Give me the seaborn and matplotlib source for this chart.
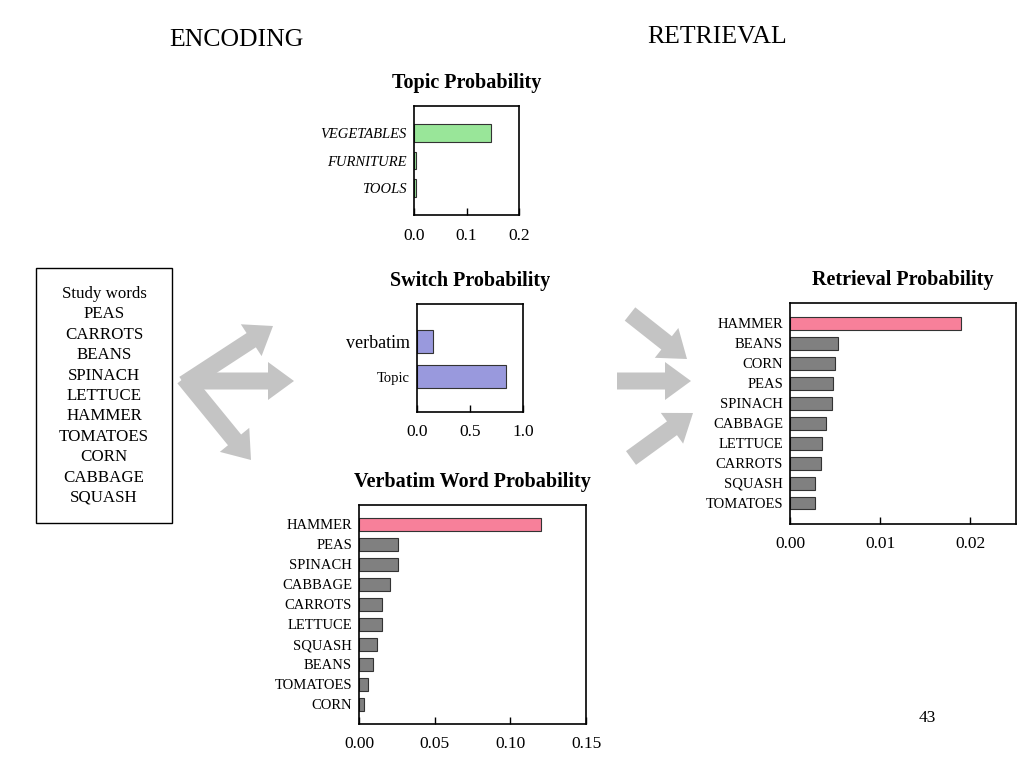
import matplotlib
matplotlib.use('Agg')
import matplotlib.pyplot as plt
import seaborn as sns
import pandas as pd
from matplotlib.patches import FancyArrow, Rectangle

# values
topic_cats = ['VEGETABLES', 'FURNITURE', 'TOOLS']
topic_vals = [0.147, 0.003, 0.003]

switch_cats = ['verbatim', 'Topic']
switch_vals = [0.15, 0.84]

verb_words = ['HAMMER', 'PEAS', 'SPINACH', 'CABBAGE', 'CARROTS',
              'LETTUCE', 'SQUASH', 'BEANS', 'TOMATOES', 'CORN']
verb_vals = [0.120, 0.0258, 0.0258, 0.0205, 0.0150,
             0.0150, 0.0118, 0.0090, 0.0060, 0.0030]

ret_words = ['HAMMER', 'BEANS', 'CORN', 'PEAS', 'SPINACH',
             'CABBAGE', 'LETTUCE', 'CARROTS', 'SQUASH', 'TOMATOES']
ret_vals = [0.0190, 0.0053, 0.0050, 0.0048, 0.0047,
            0.0040, 0.0036, 0.0034, 0.0028, 0.0028]

study_words = ['Study words', 'PEAS', 'CARROTS', 'BEANS', 'SPINACH', 'LETTUCE',
               'HAMMER', 'TOMATOES', 'CORN', 'CABBAGE', 'SQUASH']

GREEN = '#99e699'
PURPLE = '#9999dd'
PINK = '#f7809a'
GRAY = '#808080'
ARROW = '#c4c4c4'

sns.set_theme(style='white')
plt.rcParams['font.family'] = ['Liberation Serif', 'DejaVu Serif']
plt.rcParams['text.color'] = 'black'
plt.rcParams['xtick.labelcolor'] = 'black'
plt.rcParams['ytick.labelcolor'] = 'black'

W, H = 1024, 768
fig = plt.figure(figsize=(10.24, 7.68), dpi=100)

# overlay in pixel coordinates for arrows, box and slide text
bg = fig.add_axes([0, 0, 1, 1])
bg.set_xlim(0, W)
bg.set_ylim(H, 0)
bg.axis('off')


def px_axes(x0, y0, x1, y1):
    return fig.add_axes([x0 / W, 1 - y1 / H, (x1 - x0) / W, (y1 - y0) / H])


def hbar(ax, cats, vals, colors, xlim, ylim, ticks, ticklabels, title,
         labsize=10.5, italic=False):
    df = pd.DataFrame({'cat': cats, 'val': vals})
    sns.barplot(data=df, x='val', y='cat', hue='cat', palette=colors,
                legend=False, orient='h', width=0.65, ax=ax,
                edgecolor='#333333', linewidth=0.8, saturation=1)
    ax.set_xlim(*xlim)
    ax.set_ylim(*ylim)
    ax.set_xticks(ticks)
    ax.set_xticklabels(ticklabels, fontsize=12.5)
    ax.set_xlabel('')
    ax.set_ylabel('')
    ax.tick_params(axis='x', bottom=True, direction='in', length=5, width=1,
                   color='black', pad=9)
    ax.tick_params(axis='y', left=False, length=0, pad=5, labelsize=labsize)
    if italic:
        for t in ax.get_yticklabels():
            t.set_style('italic')
    for s in ax.spines.values():
        s.set_visible(True)
        s.set_color('black')
        s.set_linewidth(1.2)
    ax.set_title(title, fontsize=14.5, fontweight='bold', pad=13)


ax1 = px_axes(414, 106, 519, 215)
hbar(ax1, topic_cats, topic_vals, [GREEN] * 3, (0, 0.2), (3.0, -1.0),
     [0, 0.1, 0.2], ['0.0', '0.1', '0.2'], 'Topic Probability', italic=True)

ax2 = px_axes(417, 304, 523, 412)
hbar(ax2, switch_cats, switch_vals, [PURPLE] * 2, (0, 1.0), (2.0, -1.05),
     [0, 0.5, 1.0], ['0.0', '0.5', '1.0'], 'Switch Probability')
ylabs = ax2.get_yticklabels()
ylabs[0].set_fontsize(13)
ylabs[1].set_fontsize(10.5)

ax3 = px_axes(359, 505, 586, 724)
hbar(ax3, verb_words, verb_vals, [PINK] + [GRAY] * 9, (0, 0.15), (10.0, -0.95),
     [0, 0.05, 0.10, 0.15], ['0.00', '0.05', '0.10', '0.15'],
     'Verbatim Word Probability')

ax4 = px_axes(790, 303, 1016, 524)
hbar(ax4, ret_words, ret_vals, [PINK] + [GRAY] * 9, (0, 0.0251), (10.05, -1.0),
     [0, 0.01, 0.02], ['0.00', '0.01', '0.02'], 'Retrieval Probability')

# slide headings
bg.text(236, 40, 'ENCODING', fontsize=18.5, ha='center', va='center')
bg.text(717, 37, 'RETRIEVAL', fontsize=18.5, ha='center', va='center')
bg.text(927, 718, '43', fontsize=12.5, ha='center', va='center')

# study words box
bg.add_patch(Rectangle((36, 268), 136, 255, fill=False, ec='black', lw=1))
for i, w in enumerate(study_words):
    bg.text(104, 294 + i * 20.4, w, fontsize=12.2, ha='center', va='center')

# gray arrows
arrow_kw = dict(width=17, head_width=38, head_length=26,
                length_includes_head=True, color=ARROW, lw=0)
for (x0, y0, x1, y1) in [(184, 384, 273, 326), (190, 381, 294, 381),
                         (184, 378, 251, 460),
                         (630, 314, 687, 359), (617, 381, 691, 381),
                         (631, 458, 693, 413)]:
    bg.add_patch(FancyArrow(x0, y0, x1 - x0, y1 - y0, **arrow_kw))

fig.savefig('out.png', dpi=100)
